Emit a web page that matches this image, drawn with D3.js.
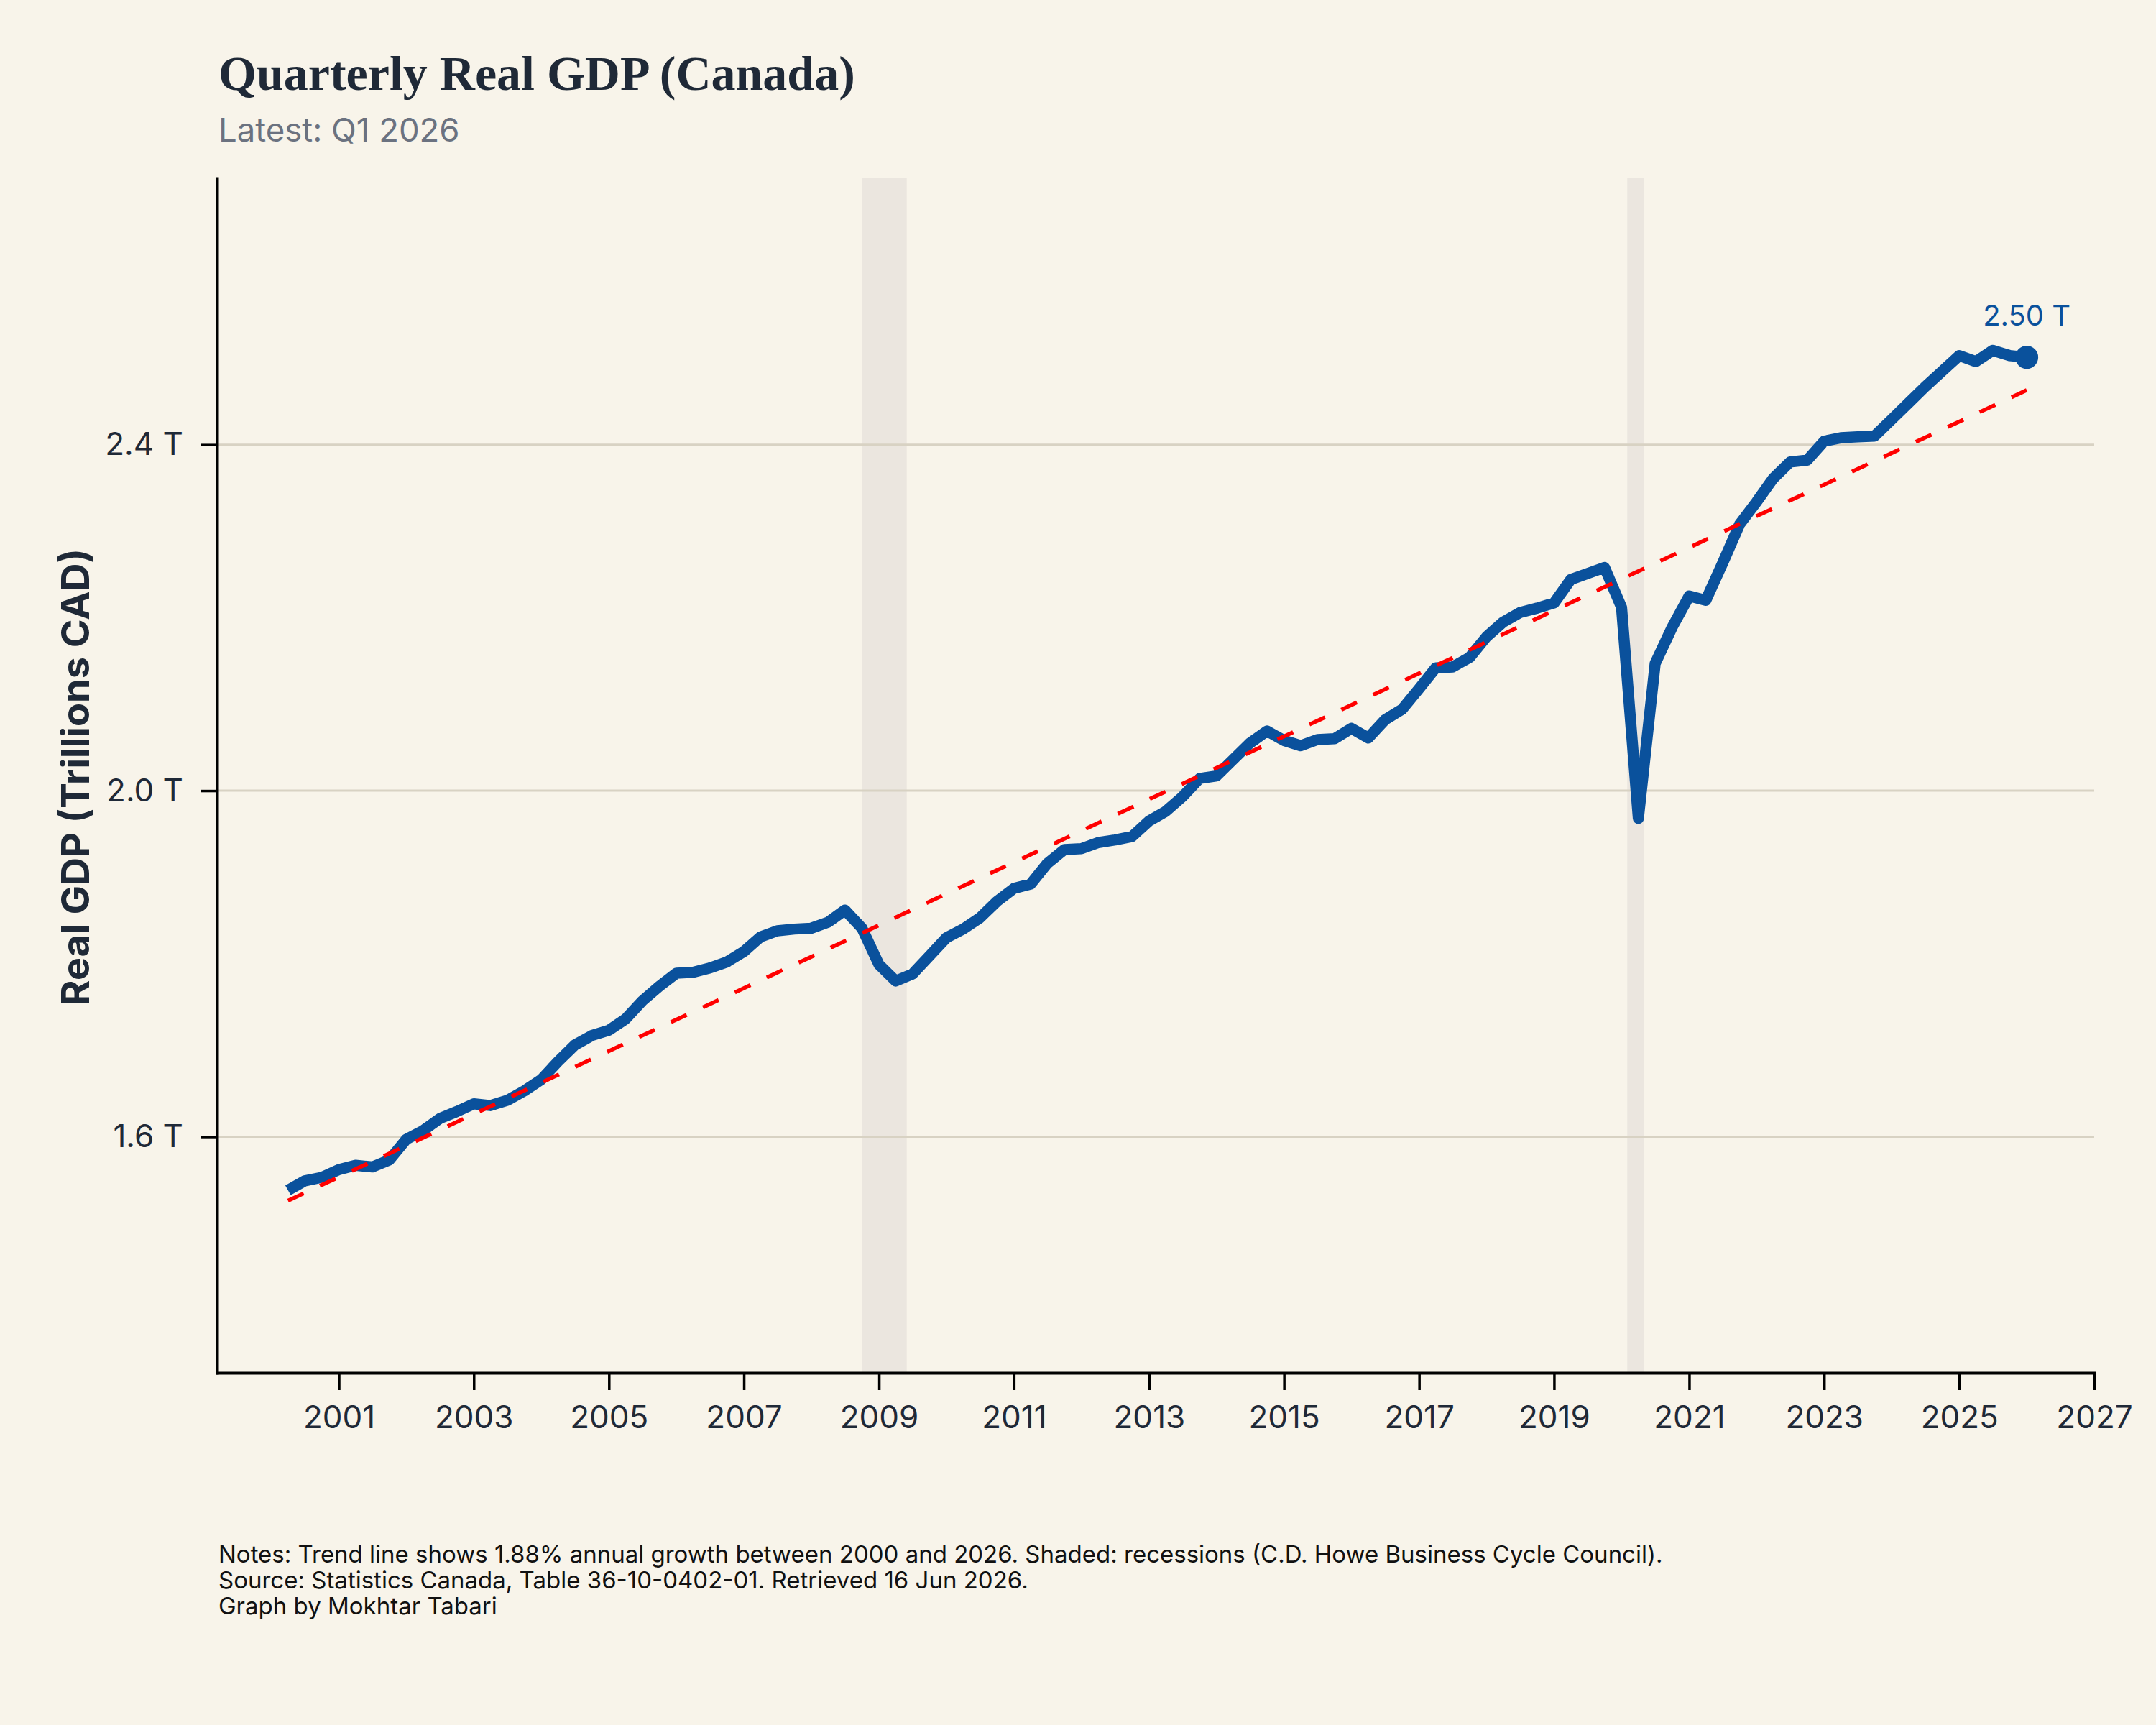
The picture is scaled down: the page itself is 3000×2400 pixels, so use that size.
<!DOCTYPE html>
<html>
<head>
<meta charset="utf-8">
<script src="https://cdn.jsdelivr.net/npm/d3@7"></script>
<style>
  html, body { margin: 0; padding: 0; background: #f8f4ea; }
  svg { display: block; }
  .axis .tick text { font-family: Inter, sans-serif; font-size: 44px; fill: #1f2937; }
  .axis .domain { stroke: #000; stroke-width: 4; }
  .axis .tick line { stroke: #000; stroke-width: 3.5; }
</style>
</head>
<body>
<div id="chart"></div>
<script>
// Quarterly real GDP, trillions CAD, first point = Q2 2000, one value per quarter
const FIRST_QUARTER = '2000-04-01';
const gdp = [
  1.538, 1.549, 1.553,                 // 2000 Q2-Q4
  1.562, 1.567, 1.565, 1.573,          // 2001
  1.597, 1.607, 1.621, 1.629,          // 2002
  1.638, 1.636, 1.642, 1.653,          // 2003
  1.666, 1.687, 1.706, 1.717,          // 2004
  1.723, 1.736, 1.757, 1.774,          // 2005
  1.789, 1.790, 1.795, 1.802,          // 2006
  1.814, 1.831, 1.838, 1.840,          // 2007
  1.841, 1.848, 1.862, 1.841,          // 2008
  1.799, 1.780, 1.788, 1.809,          // 2009
  1.830, 1.840, 1.853, 1.872,          // 2010
  1.887, 1.892, 1.916, 1.932,          // 2011
  1.933, 1.940, 1.943, 1.947,          // 2012
  1.965, 1.976, 1.993, 2.014,          // 2013
  2.017, 2.036, 2.055, 2.069,          // 2014
  2.058, 2.052, 2.059, 2.060,          // 2015
  2.072, 2.061, 2.082, 2.094,          // 2016
  2.118, 2.142, 2.143, 2.154,          // 2017
  2.178, 2.195, 2.206, 2.211,          // 2018
  2.217, 2.244, 2.251, 2.258,          // 2019
  2.212, 1.968, 2.147, 2.189,          // 2020
  2.225, 2.220, 2.263, 2.308,          // 2021
  2.334, 2.361, 2.380, 2.382,          // 2022
  2.404, 2.408, 2.409, 2.410,          // 2023
  2.429, 2.448, 2.467, 2.485,          // 2024
  2.503, 2.496, 2.509, 2.503,          // 2025
  2.501                                // 2026 Q1
];

// Trend line (1.88% annual growth) endpoints
const trendDates  = ['2000-04-01', '2026-01-01'];
const trendValues = [1.526, 2.463];

// Recessions (C.D. Howe)
const recessionStarts = ['2008-10-01', '2020-02-01'];
const recessionEnds   = ['2009-05-31', '2020-04-30'];

const xTickYears = [2001, 2003, 2005, 2007, 2009, 2011, 2013, 2015, 2017, 2019, 2021, 2023, 2025, 2027];
const yTickValues = [1.6, 2.0, 2.4];

const TITLE = 'Quarterly Real GDP (Canada)';
const SUBTITLE = 'Latest: Q1 2026';
const Y_LABEL = 'Real GDP (Trillions CAD)';
const NOTES = [
  'Notes: Trend line shows 1.88% annual growth between 2000 and 2026. Shaded: recessions (C.D. Howe Business Cycle Council).',
  'Source: Statistics Canada, Table 36-10-0402-01. Retrieved 16 Jun 2026.',
  'Graph by Mokhtar Tabari'
];

const WIDTH = 3000, HEIGHT = 2400;
const MARGIN = { top: 248, right: 86, bottom: 490, left: 302 };
const LINE_BLUE = '#0a519c';

const parseDate = d3.timeParse('%Y-%m-%d');
const start = parseDate(FIRST_QUARTER);
const series = gdp.map((v, i) => ({ date: d3.timeMonth.offset(start, 3 * i), value: v }));
const trend = trendDates.map((d, i) => ({ date: parseDate(d), value: trendValues[i] }));

const svg = d3.select('#chart').append('svg')
  .attr('width', WIDTH).attr('height', HEIGHT);

svg.append('rect').attr('width', WIDTH).attr('height', HEIGHT).attr('fill', '#f8f4ea');

const x0 = MARGIN.left, x1 = WIDTH - MARGIN.right;
const yTop = MARGIN.top, yBot = HEIGHT - MARGIN.bottom;

const xScale = d3.scaleTime()
  .domain([new Date(1999, 2, 14), new Date(2027, 0, 1)])
  .range([x0, x1]);
const yScale = d3.scaleLinear().domain([1.327, 2.708]).range([yBot, yTop]);

// Recession bands
svg.append('g').selectAll('rect')
  .data(recessionStarts.map((s, i) => [parseDate(s), parseDate(recessionEnds[i])]))
  .join('rect')
    .attr('x', d => xScale(d[0]))
    .attr('y', yTop)
    .attr('width', d => xScale(d[1]) - xScale(d[0]))
    .attr('height', yBot - yTop)
    .attr('fill', '#ebe6df');

// Horizontal gridlines
svg.append('g').selectAll('line')
  .data(yTickValues)
  .join('line')
    .attr('x1', x0).attr('x2', x1)
    .attr('y1', d => yScale(d)).attr('y2', d => yScale(d))
    .attr('stroke', '#d8d2c3').attr('stroke-width', 3);

// GDP line
const line = d3.line().x(d => xScale(d.date)).y(d => yScale(d.value));

svg.append('path')
  .datum(series)
  .attr('d', line)
  .attr('fill', 'none')
  .attr('stroke', LINE_BLUE)
  .attr('stroke-width', 15.5)
  .attr('stroke-linejoin', 'round')
  .attr('stroke-linecap', 'butt');

// Trend line
svg.append('path')
  .datum(trend)
  .attr('d', line)
  .attr('fill', 'none')
  .attr('stroke', '#ff0000')
  .attr('stroke-width', 5.5)
  .attr('stroke-dasharray', '24 25');

// Latest point + label
const last = series[series.length - 1];
svg.append('circle')
  .attr('cx', xScale(last.date)).attr('cy', yScale(last.value))
  .attr('r', 16).attr('fill', LINE_BLUE);

svg.append('text')
  .attr('x', xScale(last.date)).attr('y', yScale(last.value) - 44)
  .attr('text-anchor', 'middle')
  .style('font-family', 'Inter, sans-serif').style('font-size', '40px')
  .attr('fill', LINE_BLUE)
  .text(`${last.value.toFixed(2)} T`);

// Axes
svg.append('g').attr('class', 'axis axis--x')
  .attr('transform', `translate(0,${yBot})`)
  .call(d3.axisBottom(xScale)
    .tickValues(xTickYears.map(y => new Date(y, 0, 1)))
    .tickFormat(d3.timeFormat('%Y'))
    .tickSize(24).tickSizeOuter(0).tickPadding(22));

svg.append('g').attr('class', 'axis axis--y')
  .attr('transform', `translate(${x0},0)`)
  .call(d3.axisLeft(yScale)
    .tickValues(yTickValues)
    .tickFormat(d => `${d.toFixed(1)} T`)
    .tickSize(23).tickSizeOuter(0).tickPadding(24));

svg.selectAll('.axis .domain').attr('stroke-linecap', 'square');

// Y axis title
svg.append('text')
  .attr('transform', `translate(104,${(yTop + yBot) / 2 + 2}) rotate(-90)`)
  .attr('text-anchor', 'middle')
  .attr('dominant-baseline', 'central')
  .style('font-family', 'Inter, sans-serif').style('font-size', '54px').style('font-weight', 700)
  .attr('fill', '#1f2937')
  .text(Y_LABEL);

// Title + subtitle
svg.append('text')
  .attr('x', 304).attr('y', 125)
  .style('font-family', '"Liberation Serif", serif').style('font-size', '68px').style('font-weight', 700)
  .attr('fill', '#1f2937')
  .text(TITLE);

svg.append('text')
  .attr('x', 304).attr('y', 197)
  .style('font-family', 'Inter, sans-serif').style('font-size', '45.5px')
  .attr('fill', '#6b7280')
  .text(SUBTITLE);

// Notes
svg.append('g').selectAll('text')
  .data(NOTES)
  .join('text')
    .attr('x', 304)
    .attr('y', (d, i) => 2174 + i * 36)
    .style('font-family', 'Inter, sans-serif').style('font-size', '33px')
    .attr('fill', '#111111')
    .text(d => d);
</script>
</body>
</html>
